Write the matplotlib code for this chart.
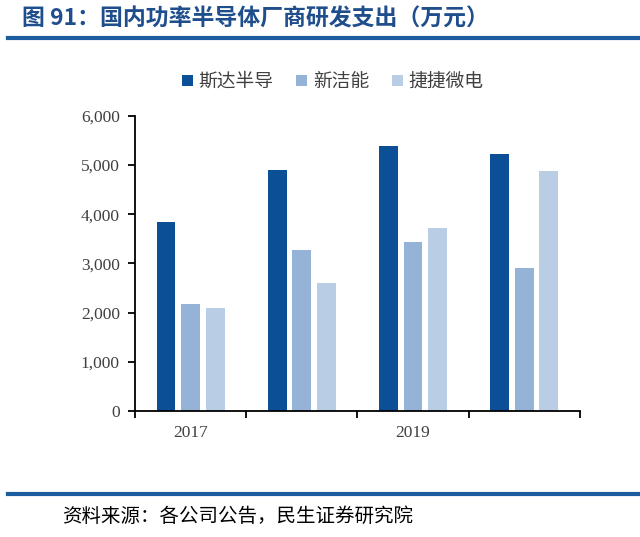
import numpy as np
import matplotlib.pyplot as plt
from matplotlib.lines import Line2D

plt.rcParams['font.family'] = ['Noto Sans CJK SC', 'DejaVu Sans']

years = ['2017', '2018', '2019', '2020']
tick_labels = ['2017', '', '2019', '']
series_names = ['斯达半导', '新洁能', '捷捷微电']
starpower = [3840, 4900, 5390, 5235]
ncepower = [2165, 3275, 3445, 2905]
jiejie = [2090, 2600, 3715, 4875]
colors = ['#0B4F96', '#95B3D7', '#B9CDE5']

fig = plt.figure(figsize=(6.4, 5.37), dpi=100)
ax = fig.add_axes([0.211, 0.235, 0.695, 0.549])

x = np.arange(len(years))
w = 0.17
pitch = 0.222
for i, (vals, name) in enumerate(zip([starpower, ncepower, jiejie], series_names)):
    ax.bar(x + (i - 1) * pitch, vals, width=w, color=colors[i], label=name)

ax.set_xlim(-0.5, len(years) - 0.5)
ax.set_ylim(0, 6000)
ax.set_yticks(range(0, 6001, 1000))
ax.set_yticklabels([f'{v:,}' for v in range(0, 6001, 1000)],
                   family='Liberation Serif', fontsize=12.5, color='#404040')
ax.set_xticks(np.arange(-0.5, len(years), 1.0))
ax.set_xticklabels([])
ax.set_xticks(x, minor=True)
ax.set_xticklabels(tick_labels, minor=True, family='Liberation Serif',
                   fontsize=12.5, color='#404040')
ax.tick_params(axis='x', which='minor', length=0, pad=10)
ax.tick_params(axis='x', which='major', direction='out', length=5, width=1.3)
ax.tick_params(axis='y', direction='out', length=5, width=1.3, pad=6)
for s in ['top', 'right']:
    ax.spines[s].set_visible(False)
for s in ['left', 'bottom']:
    ax.spines[s].set_linewidth(1.3)
    ax.spines[s].set_color('black')

ax.legend(loc='center', bbox_to_anchor=(0.52, 0.848), bbox_transform=fig.transFigure,
          ncol=3, frameon=False, fontsize=13.5, handlelength=0.6, handleheight=0.6,
          handletextpad=0.3, columnspacing=1.2, labelcolor='#404040')

fig.text(0.034, 0.965, '图 91：国内功率半导体厂商研发支出（万元）', fontsize=16.5,
         fontweight='bold', color='#1F4E8C', va='center', ha='left')
fig.add_artist(Line2D([0.012, 1.0], [0.929, 0.929], color='#1B5C9E', lw=3))
fig.add_artist(Line2D([0.012, 1.0], [0.080, 0.080], color='#1B5C9E', lw=3))
fig.text(0.097, 0.039, '资料来源：各公司公告，民生证券研究院', fontsize=14,
         color='black', va='center', ha='left')

plt.savefig('out.png', dpi=100)
